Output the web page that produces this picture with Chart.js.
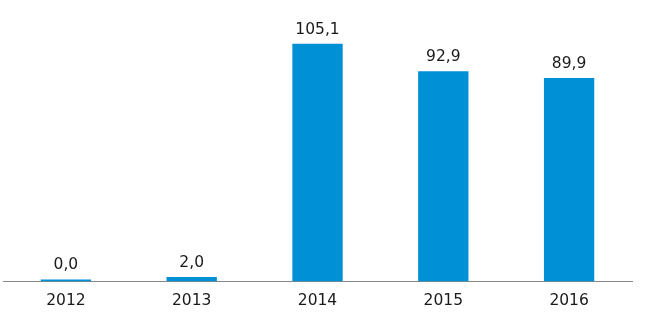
<!DOCTYPE html>
<html><head><meta charset="utf-8">
<script src="https://cdn.jsdelivr.net/npm/chart.js@4/dist/chart.umd.min.js"></script>
<style>html,body{margin:0;padding:0;background:#fff}#wrap{width:650px;height:318px}</style>
</head><body><div id="wrap"><canvas id="c" width="650" height="318"></canvas></div>
<script>
const categories = ["2012", "2013", "2014", "2015", "2016"];
const values = [0.0, 2.0, 105.1, 92.9, 89.9];
const valueLabels = ["0,0", "2,0", "105,1", "92,9", "89,9"];

const labelPlugin = {
  id: 'vlabels',
  afterDatasetsDraw(chart) {
    const ctx = chart.ctx;
    const meta = chart.getDatasetMeta(0);
    ctx.save();
    ctx.font = '15.5px "DejaVu Sans", Verdana, sans-serif';
    ctx.fillStyle = '#1a1a1a';
    ctx.textAlign = 'center';
    ctx.textBaseline = 'alphabetic';
    meta.data.forEach((bar, i) => {
      ctx.fillText(valueLabels[i], bar.x, bar.y - 10);
    });
    ctx.restore();
  }
};

new Chart(document.getElementById('c'), {
  type: 'bar',
  data: {
    labels: categories,
    datasets: [{
      data: values,
      backgroundColor: '#0090d6',
      borderWidth: 0,
      minBarLength: 2,
      categoryPercentage: 1,
      barPercentage: 0.4
    }]
  },
  options: {
    responsive: false,
    animation: false,
    layout: { padding: { left: 3, right: 18, top: 10, bottom: -2 } },
    plugins: { legend: { display: false }, tooltip: { enabled: false } },
    scales: {
      x: {
        grid: { display: false, drawTicks: false },
        border: { display: true, color: '#888888', width: 1 },
        ticks: { color: '#1a1a1a', padding: 10, font: { family: '"DejaVu Sans", Verdana, sans-serif', size: 15.5 } }
      },
      y: {
        display: false,
        min: 0,
        max: 120
      }
    }
  },
  plugins: [labelPlugin]
});
</script>
</body></html>
